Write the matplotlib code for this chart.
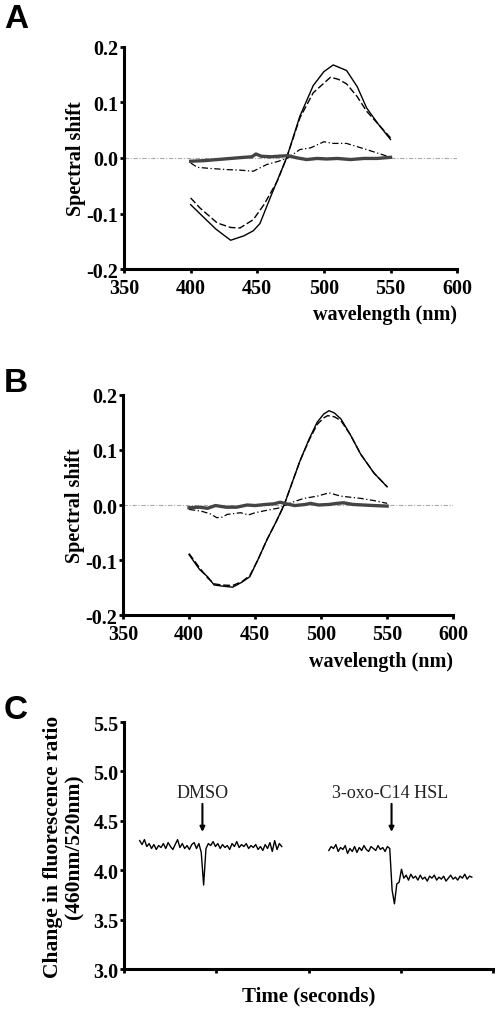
import numpy as np
import matplotlib.pyplot as plt

# ---- panel A data (wavelength nm, spectral shift) ----
a_solid_x = [400, 409, 419, 430, 440, 447, 452, 460, 472, 482, 492, 500, 507, 517, 525, 532, 541, 550]
a_solid_y = [-0.084, -0.105, -0.128, -0.148, -0.140, -0.131, -0.118, -0.070, 0.0, 0.075, 0.130, 0.155, 0.167, 0.157, 0.128, 0.090, 0.060, 0.033]
a_dash_x = [400, 407, 420, 430, 437, 447, 455, 465, 472, 482, 492, 505, 511, 517, 525, 532, 541, 550]
a_dash_y = [-0.072, -0.090, -0.117, -0.125, -0.126, -0.111, -0.084, -0.042, 0.0, 0.072, 0.117, 0.145, 0.141, 0.133, 0.110, 0.084, 0.060, 0.036]
a_dd_x = [400, 405, 415, 427, 437, 447, 457, 466, 473, 482, 490, 500, 507, 517, 532, 541, 550]
a_dd_y = [-0.009, -0.017, -0.019, -0.021, -0.022, -0.024, -0.012, -0.006, 0.0, 0.015, 0.018, 0.029, 0.026, 0.026, 0.015, 0.008, 0.001]
a_gray_x = [400, 410, 420, 430, 440, 446, 449, 453, 460, 466, 473, 480, 487, 495, 502, 510, 520, 530, 540, 550]
a_gray_y = [-0.006, -0.005, -0.003, -0.001, 0.001, 0.002, 0.007, 0.003, 0.002, 0.003, 0.004, 0.0, -0.003, -0.001, -0.002, -0.001, -0.003, -0.001, -0.001, 0.001]

# ---- panel B data ----
b_solid_x = [400, 408, 414, 419, 425, 433, 440, 446, 452, 459, 466, 472, 478, 484, 491, 497, 502, 506, 510, 515, 522, 530, 540, 550]
b_solid_y = [-0.090, -0.117, -0.130, -0.145, -0.147, -0.149, -0.140, -0.130, -0.100, -0.063, -0.030, 0.0, 0.040, 0.080, 0.120, 0.150, 0.165, 0.171, 0.167, 0.156, 0.128, 0.092, 0.058, 0.033]
b_dash_x = [400, 408, 414, 419, 425, 433, 440, 446, 452, 459, 466, 472, 478, 484, 491, 497, 502, 505, 510, 515, 522, 530, 540, 550]
b_dash_y = [-0.088, -0.114, -0.132, -0.143, -0.145, -0.146, -0.139, -0.128, -0.100, -0.063, -0.030, 0.0, 0.040, 0.080, 0.118, 0.146, 0.158, 0.162, 0.160, 0.153, 0.128, 0.092, 0.058, 0.033]
b_dd_x = [400, 409, 416, 421, 425, 429, 439, 445, 450, 456, 469, 477, 487, 497, 506, 515, 530, 540, 550]
b_dd_y = [-0.008, -0.011, -0.016, -0.023, -0.022, -0.017, -0.014, -0.018, -0.014, -0.011, -0.005, 0.004, 0.012, 0.016, 0.022, 0.016, 0.012, 0.008, 0.003]
b_gray_x = [400, 408, 414, 420, 428, 436, 444, 450, 458, 464, 469, 474, 480, 488, 492, 498, 506, 512, 517, 524, 532, 540, 550]
b_gray_y = [-0.005, -0.004, -0.006, -0.001, -0.004, -0.004, 0.0, -0.001, 0.001, 0.002, 0.005, 0.002, -0.001, 0.001, 0.003, 0.0, 0.001, 0.003, 0.004, 0.001, 0.0, -0.001, -0.002]

# ---- panel C data (fluorescence ratio traces) ----
c_dmso = [4.30, 4.26, 4.31, 4.24, 4.27, 4.22, 4.26, 4.21, 4.25, 4.23, 4.27, 4.22, 4.28, 4.24,
          4.21, 4.26, 4.31, 4.23, 4.27, 4.22, 4.25, 4.21, 4.26, 4.28, 4.22, 4.27, 4.18, 3.85,
          4.22, 4.27, 4.25, 4.29, 4.24, 4.27, 4.22, 4.26, 4.23, 4.25, 4.21, 4.27, 4.24, 4.29,
          4.23, 4.26, 4.24, 4.27, 4.22, 4.25, 4.23, 4.26, 4.21, 4.24, 4.20, 4.26, 4.22, 4.28,
          4.19, 4.30, 4.21, 4.27, 4.24]
c_hsl = [4.20, 4.24, 4.22, 4.26, 4.19, 4.23, 4.21, 4.25, 4.17, 4.22, 4.19, 4.24, 4.18, 4.23,
         4.20, 4.25, 4.21, 4.19, 4.24, 4.22, 4.20, 4.25, 4.21, 4.23, 4.19, 4.24, 4.22, 3.80,
         3.66, 3.86, 3.88, 4.01, 3.92, 3.95, 3.90, 3.96, 3.92, 3.94, 3.90, 3.95, 3.91, 3.93,
         3.89, 3.94, 3.92, 3.95, 3.90, 3.93, 3.91, 3.94, 3.89, 3.92, 3.95, 3.91, 3.93, 3.90,
         3.94, 3.92, 3.96, 3.91, 3.94, 3.93]
c_dmso_t = np.linspace(0.17, 1.71, len(c_dmso))
c_hsl_t = np.linspace(2.22, 3.77, len(c_hsl))

serif = 'Liberation Serif'
plt.rcParams['font.family'] = serif
plt.rcParams['axes.linewidth'] = 2.2

fig = plt.figure(figsize=(4.98, 10.12), dpi=100)


def spectral_axes(rect, sets):
    ax = fig.add_axes(rect)
    ax.plot([350, 600], [0, 0], color='#aaaaaa', lw=0.8, ls='-.', dashes=(4, 1.5, 1, 1.5))
    for (x, y), style in zip(sets, ['solid', 'dash', 'dd', 'gray']):
        if style == 'solid':
            ax.plot(x, y, color='black', lw=1.0)
        elif style == 'dash':
            ax.plot(x, y, color='black', lw=1.0, ls=(0, (5, 2)))
        elif style == 'dd':
            ax.plot(x, y, color='black', lw=0.9, ls=(0, (5, 2, 1, 2)))
        else:
            ax.plot(x, y, color='#444444', lw=2.4)
    ax.set_xlim(350, 600)
    ax.set_ylim(-0.2, 0.2)
    ax.set_xticks([350, 400, 450, 500, 550, 600])
    ax.set_yticks([-0.2, -0.1, 0.0, 0.1, 0.2])
    ax.set_yticklabels(['-0.2', '-0.1', '0.0', '0.1', '0.2'])
    for s in ['top', 'right']:
        ax.spines[s].set_visible(False)
    ax.tick_params(length=3, width=2, labelsize=14.5)
    ax.tick_params(axis='x', pad=3)
    ax.tick_params(axis='y', pad=1)
    for lbl in ax.get_xticklabels() + ax.get_yticklabels():
        lbl.set_fontweight('bold')
    ax.set_ylabel('Spectral shift', fontsize=14.5, fontweight='bold', labelpad=0.5)
    ax.set_xlabel('wavelength (nm)', fontsize=14.5, fontweight='bold', loc='right', labelpad=5)
    return ax


spectral_axes([0.249, 0.733, 0.669, 0.220],
              [(a_solid_x, a_solid_y), (a_dash_x, a_dash_y), (a_dd_x, a_dd_y), (a_gray_x, a_gray_y)])
spectral_axes([0.247, 0.391, 0.663, 0.218],
              [(b_solid_x, b_solid_y), (b_dash_x, b_dash_y), (b_dd_x, b_dd_y), (b_gray_x, b_gray_y)])

axc = fig.add_axes([0.249, 0.0415, 0.741, 0.244])
axc.plot(c_dmso_t, c_dmso, color='black', lw=1.0)
axc.plot(c_hsl_t, c_hsl, color='black', lw=1.0)
axc.set_xlim(0, 4)
axc.set_ylim(3.0, 5.5)
axc.set_xticks([0, 1, 2, 3, 4])
axc.set_xticklabels([])
axc.set_yticks([3.0, 3.5, 4.0, 4.5, 5.0, 5.5])
for s in ['top', 'right']:
    axc.spines[s].set_visible(False)
axc.tick_params(length=3, width=2, pad=1, labelsize=14.5)
for lbl in axc.get_yticklabels():
    lbl.set_fontweight('bold')
axc.set_ylabel('Change in fluorescence ratio\n(460nm/520nm)', fontsize=15.5,
               fontweight='bold', labelpad=6, linespacing=1.1)
axc.set_xlabel('Time (seconds)', fontsize=15, fontweight='bold', labelpad=8)

axc.annotate('', xy=(0.85, 4.36), xytext=(0.85, 4.70),
             arrowprops=dict(arrowstyle='-|>', color='black', lw=1.5, mutation_scale=7))
axc.text(0.85, 4.79, 'DMSO', ha='center', va='center', fontsize=13, color='#222222')
axc.annotate('', xy=(2.90, 4.36), xytext=(2.90, 4.70),
             arrowprops=dict(arrowstyle='-|>', color='black', lw=1.5, mutation_scale=7))
axc.text(2.88, 4.79, '3-oxo-C14 HSL', ha='center', va='center', fontsize=13, color='#222222')

for letter, ytop in [('A', 4), ('B', 368), ('C', 695)]:
    fig.text(0.008, 1 - ytop / 1012, letter, fontsize=24, fontweight='bold',
             family='Liberation Sans', va='top', ha='left')

fig.savefig('out.png', dpi=100)
